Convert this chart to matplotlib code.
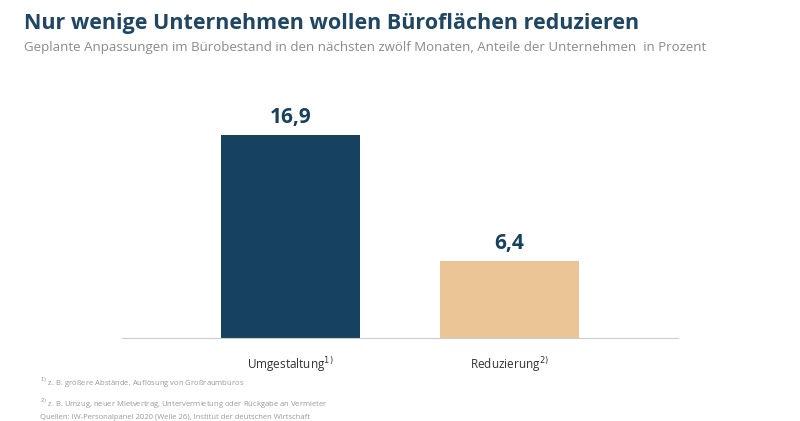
import matplotlib.pyplot as plt

categories = ["Umgestaltung$^{1)}$", "Reduzierung$^{2)}$"]
values = [16.9, 6.4]
labels = ["16,9", "6,4"]
colors = ["#17425f", "#ecc596"]

plt.rcParams['font.family'] = ['Open Sans', 'DejaVu Sans']
fig = plt.figure(figsize=(8, 4.21), dpi=100)
ax = fig.add_axes([0.1525, 0.197, 0.695, 0.565])

x = [0, 1]
ax.bar(x, values, width=0.636, color=colors)
for xi, v, lab in zip(x, values, labels):
    ax.text(xi, v + 0.6, lab, ha="center", va="bottom", fontsize=15,
            fontweight="bold", color="#17425f")

ax.set_xlim(-0.771, 1.773)
ax.set_ylim(0, 19.81)
ax.set_yticks([])
ax.set_xticks(x)
ax.set_xticklabels(categories, fontsize=8.5, color="#333333")
ax.tick_params(axis="x", length=0, pad=12)
for s in ["top", "right", "left"]:
    ax.spines[s].set_visible(False)
ax.spines["bottom"].set_color("#cccccc")

fig.text(0.03, 0.945, "Nur wenige Unternehmen wollen Büroflächen reduzieren",
         fontsize=15.5, fontweight="bold", color="#1f4763", va="center")
fig.text(0.03, 0.888, "Geplante Anpassungen im Bürobestand in den nächsten zwölf Monaten, "
         "Anteile der Unternehmen  in Prozent", fontsize=9.5, color="#8a8a8a", va="center")

foot = ("$^{1)}$ z. B. größere Abstände, Auflösung von Großraumbüros\n"
        "$^{2)}$ z. B. Umzug, neuer Mietvertrag, Untervermietung oder Rückgabe an Vermieter\n"
        "Quellen: IW-Personalpanel 2020 (Welle 26), Institut der deutschen Wirtschaft")
fig.text(0.05, 0.0, foot, fontsize=5.5, color="#999999", va="bottom", linespacing=1.6)

fig.savefig("out.png", dpi=100)
